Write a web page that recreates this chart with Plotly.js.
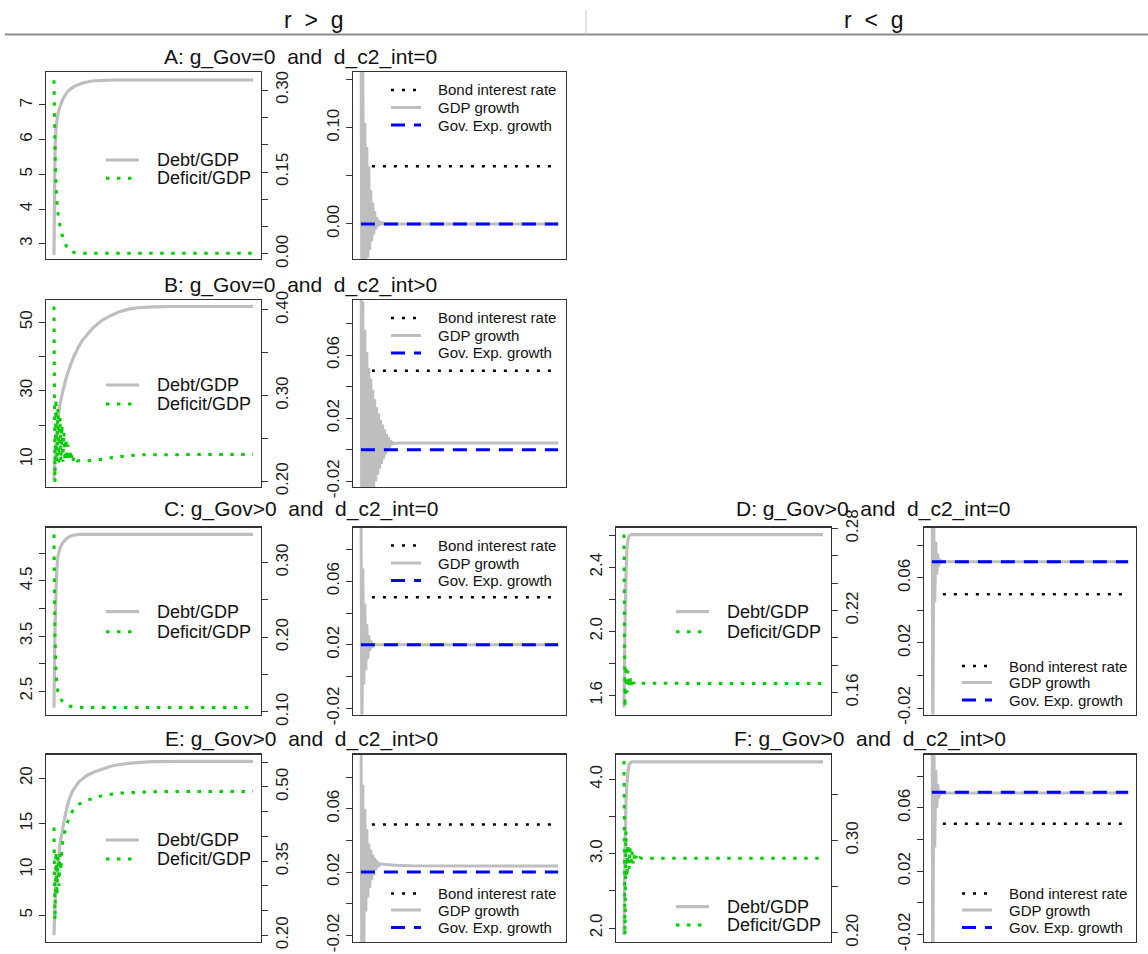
<!DOCTYPE html>
<html><head><meta charset="utf-8">
<script src="https://cdn.plot.ly/plotly-3.0.1.min.js"></script>
<style>html,body{margin:0;padding:0;background:#fff}#chart{width:1148px;height:954px}</style>
</head><body><div id="chart"></div>
<script>
// ===================== DATA =====================
// Panel A: g_Gov=0 and d_c2_int=0 (r > g)
const tDebtA = [0,1,2,3,4,5,6,8,10,13,16,20,24,30,38,50,60,200];
const debtA  = [2.67,5.6,6.3,6.55,6.75,6.86,6.95,7.10,7.22,7.36,7.45,7.53,7.58,7.64,7.69,7.71,7.72,7.72];
const tDefA  = [0,1,2,3,4,5,6,8,10,13,16,22,30,200];
const defA   = [0.318,0.20,0.13,0.095,0.075,0.062,0.052,0.036,0.025,0.012,0.005,0.002,0.0015,0.0012];
const tGdpA  = [0,1,2,3,4,5,6,7,8,9,10,11,12,13,14,15,16,17,18,19,20,21,22,23,24,25,200];
const gdpA   = [0.30,-0.12,0.16,-0.07,0.105,-0.05,0.08,-0.035,0.06,-0.027,0.035,-0.018,0.022,-0.011,0.013,-0.006,0.007,-0.003,0.004,-0.0015,0.002,-0.0007,0.001,0,0,0,0];
const bondA = 0.06, govA = 0;

// Panel B: g_Gov=0 and d_c2_int>0 (r > g)
const tDebtB = [0,1,2,3,4,6,9,12,16,20,24,28,33,40,49,58,66,76,86,100,120,200];
const debtB  = [3.9,10,15,19,21.8,26,30,33.5,37,40,42.4,44.5,46.3,48.6,50.7,52.1,53.1,53.9,54.3,54.5,54.6,54.6];
const tDefB  = [0,1,2,3,4,5,6,7,8,9,10,11,12,13,14,15,16,17,18,19,20,21,22,23,25,30,40,50,60,75,90,200];
const defB   = [0.404,0.199,0.297,0.222,0.285,0.222,0.275,0.223,0.266,0.223,0.258,0.223,0.25,0.224,0.243,0.224,0.237,0.224,0.232,0.224,0.228,0.224,0.226,0.224,0.224,0.2238,0.2245,0.226,0.228,0.230,0.231,0.2315];
const tGdpB  = [0,1,2,3,4,5,6,7,8,9,10,11,12,13,14,15,16,17,18,19,20,21,22,23,24,25,26,27,28,29,30,31,32,33,40,200];
const gdpB   = [0.20,-0.096,0.094,-0.076,0.076,-0.061,0.062,-0.048,0.052,-0.039,0.045,-0.031,0.038,-0.025,0.032,-0.020,0.027,-0.016,0.023,-0.012,0.019,-0.009,0.016,-0.006,0.013,-0.003,0.010,-0.001,0.008,0.001,0.006,0.003,0.005,0.004,0.0043,0.0043];
const bondB = 0.05, govB = 0;

// Panel C: g_Gov>0 and d_c2_int=0 (r > g)
const tDebtC = [0,1,2,3,4,6,8,11,15,19,26,40,200];
const debtC  = [2.2,3.6,4.3,4.75,4.95,5.09,5.17,5.24,5.30,5.33,5.345,5.345,5.345];
const tDefC  = [0,1,2,3,4,6,8,11,15,19,30,200];
const defC   = [0.3375,0.20,0.155,0.135,0.127,0.12,0.115,0.111,0.108,0.1067,0.106,0.1059];
const tGdpC  = [0,1,2,3,4,5,6,7,8,9,10,11,12,13,14,15,200];
const gdpC   = [0.14,-0.05,0.068,-0.005,0.046,0.004,0.033,0.011,0.026,0.016,0.023,0.018,0.021,0.0195,0.0202,0.02,0.02];
const bondC = 0.05, govC = 0.02;

// Panel D: g_Gov>0 and d_c2_int=0 (r < g)
const tDebtD = [0,1,2,3,4,5,7,200];
const debtD  = [1.525,2.0,2.35,2.52,2.57,2.595,2.603,2.603];
const tDefD  = [0,1,2,3,4,5,6,7,8,9,10,11,12,200];
const defD   = [0.2756,0.149,0.18,0.160,0.176,0.163,0.172,0.164,0.169,0.1655,0.1675,0.1662,0.1668,0.1666];
const tGdpD  = [0,1,2,3,4,5,6,7,8,9,10,11,200];
const gdpD   = [0.20,-0.06,0.095,0.045,0.082,0.062,0.075,0.067,0.0715,0.0692,0.0703,0.07,0.07];
const bondD = 0.05, govD = 0.07;

// Panel E: g_Gov>0 and d_c2_int>0 (r > g)
const tDebtE = [0,1,2,3,5,6,8,10,13,16,19,25,33,41,49,57,66,80,99,130,200];
const debtE  = [2.82,6.0,8.5,9.6,11.6,12.8,14.0,15.2,16.8,17.9,18.66,19.6,20.3,20.7,21.0,21.3,21.5,21.68,21.8,21.83,21.83];
const tDefE  = [0,1,2,3,4,5,6,7,8,9,10,11,13,16,19,25,33,41,49,66,100,200];
const defE   = [0.418,0.23,0.37,0.28,0.36,0.30,0.365,0.33,0.375,0.39,0.40,0.41,0.4255,0.44,0.4525,0.465,0.4727,0.478,0.4828,0.4875,0.4905,0.491];
const tGdpE  = [0,1,2,3,4,5,6,7,8,9,10,11,12,13,14,15,16,17,18,19,20,25,35,50,200];
const gdpE   = [0.15,-0.06,0.075,-0.03,0.06,-0.005,0.047,0.004,0.038,0.010,0.034,0.015,0.031,0.018,0.029,0.021,0.0275,0.023,0.026,0.0245,0.0252,0.0248,0.0243,0.024,0.0238];
const bondE = 0.05, govE = 0.02;

// Panel F: g_Gov>0 and d_c2_int>0 (r < g)
const tDebtF = [0,1,2,3,4,5,6,8,200];
const debtF  = [1.905,3.0,3.7,3.95,4.1,4.19,4.22,4.235,4.237];
const tDefF  = [0,1,2,3,4,5,6,7,8,9,10,11,12,13,14,15,16,18,200];
const defF   = [0.386,0.197,0.31,0.26,0.296,0.268,0.292,0.272,0.288,0.275,0.285,0.277,0.283,0.279,0.282,0.280,0.2812,0.2806,0.2806];
const tGdpF  = [0,1,2,3,4,5,6,7,8,9,10,200];
const gdpF   = [0.2,-0.08,0.11,0.035,0.084,0.06,0.075,0.066,0.071,0.069,0.0695,0.0695];
const bondF = 0.05, govF = 0.07;

// tick labels
const tickLA = [3,4,5,6,7],            lblLA = ['3','4','5','6','7'];
const tickRA = [0,0.05,0.10,0.15,0.20,0.25,0.30], lblRA = ['0.00','','','0.15','','','0.30'];
const tickGA = [0,0.05,0.10,0.15],     lblGA = ['0.00','','0.10',''];
const tickLB = [10,20,30,40,50],       lblLB = ['10','','30','','50'];
const tickRB = [0.20,0.25,0.30,0.35,0.40], lblRB = ['0.20','','0.30','','0.40'];
const tickLC = [2.5,3,3.5,4,4.5,5],    lblLC = ['2.5','','3.5','','4.5',''];
const tickRC = [0.10,0.15,0.20,0.25,0.30], lblRC = ['0.10','','0.20','','0.30'];
const tickLD = [1.6,1.8,2.0,2.2,2.4,2.6], lblLD = ['1.6','','2.0','','2.4',''];
const tickRD = [0.16,0.18,0.20,0.22,0.24,0.26,0.28], lblRD = ['0.16','','','0.22','','','0.28'];
const tickLE = [5,10,15,20],           lblLE = ['5','10','15','20'];
const tickRE = [0.20,0.25,0.30,0.35,0.40,0.45,0.50,0.55], lblRE = ['0.20','','','0.35','','','0.50',''];
const tickLF = [2.0,2.5,3.0,3.5,4.0],  lblLF = ['2.0','','3.0','','4.0'];
const tickRF = [0.20,0.25,0.30,0.35],  lblRF = ['0.20','','0.30',''];
const tickG  = [-0.02,0,0.02,0.04,0.06,0.08], lblG = ['-0.02','','0.02','','0.06',''];

const seriesNames = ['Debt/GDP','Deficit/GDP','Bond interest rate','GDP growth','Gov. Exp. growth'];
const headers = ['r &gt; g','r &lt; g'];

// ===================== LAYOUT =====================
const W = 1148, H = 954;
const FONT = 'Liberation Sans, Arial, sans-serif';
const GRAY = '#bebebe', GREEN = '#00cd00', BLUE = '#0000ff', BLACK = '#000000';
const DOT_G = '3.5px,7.5px', DOT_K = '3px,8px', DASH_B = '14px,9px';
const px = p => p / W, py = p => 1 - p / H;
const COLS = {LL:[46,261], LR:[353,566], RL:[616,831], RR:[924,1136]};
const ROWS = {A:[72,259], B:[300,487], C:[527.5,714.5], E:[754.5,942]};
const XR = [-8, 208];

const panels = [
  {title:'A: g_Gov=0\u00a0 and\u00a0 d_c2_int=0', tx:300, ty:57, row:'A', cl:'LL', cr:'LR',
   debt:[tDebtA,debtA], def:[tDefA,defA], gdp:[tGdpA,gdpA], bond:bondA, gov:govA,
   lR:[2.56,7.95], rR:[-0.0092,0.333], gR:[-0.0365,0.158],
   lT:[tickLA,lblLA], rT:[tickRA,lblRA], gT:[tickGA,lblGA], legL:[160,178.3], legR:'top'},
  {title:'B: g_Gov=0\u00a0 and\u00a0 d_c2_int&gt;0', tx:300, ty:285, row:'B', cl:'LL', cr:'LR',
   debt:[tDebtB,debtB], def:[tDefB,defB], gdp:[tGdpB,gdpB], bond:bondB, gov:govB,
   lR:[1.9,56.5], rR:[0.1934,0.4116], gR:[-0.0236,0.0949],
   lT:[tickLB,lblLB], rT:[tickRB,lblRB], gT:[tickG,lblG], legL:[385,404], legR:'top'},
  {title:'C: g_Gov&gt;0\u00a0 and\u00a0 d_c2_int=0', tx:301, ty:508.5, row:'C', cl:'LL', cr:'LR',
   debt:[tDebtC,debtC], def:[tDefC,defC], gdp:[tGdpC,gdpC], bond:bondC, gov:govC,
   lR:[2.077,5.47], rR:[0.0965,0.347], gR:[-0.0238,0.0938],
   lT:[tickLC,lblLC], rT:[tickRC,lblRC], gT:[tickG,lblG], legL:[611.7,631.7], legR:'top'},
  {title:'D: g_Gov&gt;0\u00a0 and\u00a0 d_c2_int=0', tx:873, ty:508.5, row:'C', cl:'RL', cr:'RR',
   debt:[tDebtD,debtD], def:[tDefD,defD], gdp:[tGdpD,gdpD], bond:bondD, gov:govD,
   lR:[1.481,2.648], rR:[0.144,0.2807], gR:[-0.024,0.091],
   lT:[tickLD,lblLD], rT:[tickRD,lblRD], gT:[tickG,lblG], legL:[611.7,631.7], legR:'bottom'},
  {title:'E: g_Gov&gt;0\u00a0 and\u00a0 d_c2_int&gt;0', tx:301, ty:738.5, row:'E', cl:'LL', cr:'LR',
   debt:[tDebtE,debtE], def:[tDefE,defE], gdp:[tGdpE,gdpE], bond:bondE, gov:govE,
   lR:[2.08,22.59], rR:[0.1865,0.5656], gR:[-0.0242,0.0943],
   lT:[tickLE,lblLE], rT:[tickRE,lblRE], gT:[tickG,lblG], legL:[840,859], legR:'bottom'},
  {title:'F: g_Gov&gt;0\u00a0 and\u00a0 d_c2_int&gt;0', tx:870, ty:738.5, row:'E', cl:'RL', cr:'RR',
   debt:[tDebtF,debtF], def:[tDefF,defF], gdp:[tGdpF,gdpF], bond:bondF, gov:govF,
   lR:[1.812,4.335], rR:[0.19,0.393], gR:[-0.0248,0.0938],
   lT:[tickLF,lblLF], rT:[tickRF,lblRF], gT:[tickG,lblG], legL:[906.7,925], legR:'bottom'}
];

const traces = [], shapes = [], annotations = [];
const layout = {width:W, height:H, margin:{l:0,r:0,t:0,b:0}, paper_bgcolor:'#fff', plot_bgcolor:'#fff',
  showlegend:false, font:{family:FONT, color:'#1a1a1a'}};

const tickFont = {family:FONT, size:17, color:'#1a1a1a'};
function xAxis(col,row,yref){
  return {domain:[px(COLS[col][0]),px(COLS[col][1])], range:XR, anchor:yref, showticklabels:false, ticks:'',
    showgrid:false, zeroline:false, showline:true, mirror:true, linecolor:'#333', linewidth:1.3, fixedrange:true};
}
function yAxis(row,range,ticks,xref,side,overlay){
  const a = {range:range, anchor:xref, side:side, tickmode:'array', tickvals:ticks[0], ticktext:ticks[1],
    tickangle:-90, ticks:'outside', ticklen:6, tickwidth:1, tickcolor:'#333', tickfont:tickFont,
    showgrid:false, zeroline:false, fixedrange:true};
  if (overlay) { a.overlaying = overlay; a.showline = false; }
  else { a.domain = [py(ROWS[row][1]), py(ROWS[row][0])]; a.showline = true; a.mirror = true; a.linecolor = '#333'; a.linewidth = 1.3; }
  return a;
}
function line(t, y, xa, ya, color, width, dash, name){
  return {type:'scatter', mode:'lines', x:t, y:y, xaxis:xa, yaxis:ya, name:name, hoverinfo:'skip',
    line:{color:color, width:width, dash:dash, simplify:false}};
}
function segShape(x0,y0,x1,y1,color,width,dash){
  return {type:'line', xref:'paper', yref:'paper', x0:px(x0), y0:py(y0), x1:px(x1), y1:py(y1),
    line:{color:color, width:width, dash:dash}};
}
function textAnn(x,y,text,size,anchor){
  return {xref:'paper', yref:'paper', x:px(x), y:py(y), text:text, showarrow:false,
    xanchor:anchor||'left', yanchor:'middle', font:{family:FONT, size:size, color:'#111'}};
}

let xi = 0, yi = 0;
panels.forEach(p => {
  // ---- left panel: Debt/GDP (left axis) and Deficit/GDP (right axis)
  xi++; const xa = xi === 1 ? 'x' : 'x' + xi;
  yi++; const ya = yi === 1 ? 'y' : 'y' + yi;
  yi++; const yb = 'y' + yi;
  layout[xi === 1 ? 'xaxis' : 'xaxis' + xi] = xAxis(p.cl, p.row, ya);
  layout[ya === 'y' ? 'yaxis' : 'yaxis' + ya.slice(1)] = yAxis(p.row, p.lR, p.lT, xa, 'left');
  layout['yaxis' + yb.slice(1)] = yAxis(p.row, p.rR, p.rT, xa, 'right', ya);
  traces.push(line(p.debt[0], p.debt[1], xa, ya, GRAY, 3.2, 'solid', seriesNames[0]));
  traces.push(line(p.def[0], p.def[1], xa, yb, GREEN, 3, DOT_G, seriesNames[1]));

  // ---- right panel: rates
  xi++; const xc = 'x' + xi;
  yi++; const yc = 'y' + yi;
  layout['xaxis' + xi] = xAxis(p.cr, p.row, yc);
  layout['yaxis' + yi] = yAxis(p.row, p.gR, p.gT, xc, 'left');
  const tEnds = [p.gdp[0][0], p.gdp[0][p.gdp[0].length - 1]];
  traces.push(line(tEnds, [p.bond, p.bond], xc, yc, BLACK, 2.5, DOT_K, seriesNames[2]));
  traces.push(line(p.gdp[0], p.gdp[1], xc, yc, GRAY, 3, 'solid', seriesNames[3]));
  traces.push(line(tEnds, [p.gov, p.gov], xc, yc, BLUE, 3, DASH_B, seriesNames[4]));

  // ---- title
  annotations.push(textAnn(p.tx, p.ty, p.title, 21, 'center'));

  // ---- legend of left panel
  const L = COLS[p.cl][0];
  shapes.push(segShape(L + 60, p.legL[0], L + 93, p.legL[0], GRAY, 3.2, 'solid'));
  shapes.push(segShape(L + 60, p.legL[1], L + 93, p.legL[1], GREEN, 3, DOT_G));
  annotations.push(textAnn(L + 109, p.legL[0], seriesNames[0], 18));
  annotations.push(textAnn(L + 109, p.legL[1], seriesNames[1], 18));

  // ---- legend of right panel
  const R = COLS[p.cr][0];
  const rows = p.legR === 'top'
    ? [ROWS[p.row][0] + 18, ROWS[p.row][0] + 35.5, ROWS[p.row][0] + 53]
    : [ROWS[p.row][1] - 48.5, ROWS[p.row][1] - 32, ROWS[p.row][1] - 14.5];
  shapes.push(segShape(R + 38, rows[0], R + 68, rows[0], BLACK, 2.5, DOT_K));
  shapes.push(segShape(R + 38, rows[1], R + 68, rows[1], GRAY, 3, 'solid'));
  shapes.push(segShape(R + 38, rows[2], R + 68, rows[2], BLUE, 3, DASH_B));
  annotations.push(textAnn(R + 83, rows[0], seriesNames[2], 15));
  annotations.push(textAnn(R + 83, rows[1], seriesNames[3], 15));
  annotations.push(textAnn(R + 83, rows[2], seriesNames[4], 15));
});

// ---- headers
annotations.push(textAnn(313, 20, headers[0].replace(/ /g,'\u00a0\u00a0'), 23, 'center'));
annotations.push(textAnn(873, 20, headers[1].replace(/ /g,'\u00a0\u00a0'), 23, 'center'));
shapes.push(segShape(5, 34.5, 1148, 34.5, '#8c8c8c', 2, 'solid'));
shapes.push(segShape(586, 10, 586, 34, '#c8c8c8', 1, 'solid'));

layout.shapes = shapes;
layout.annotations = annotations;

Plotly.newPlot('chart', traces, layout, {staticPlot:true, displayModeBar:false});
</script>
</body></html>
